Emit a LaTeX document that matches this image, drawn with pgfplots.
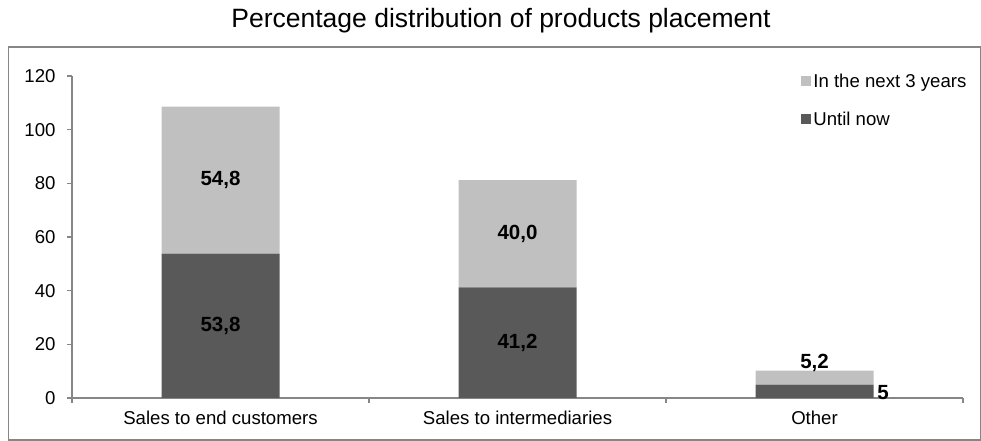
\documentclass[border=0pt]{standalone}
\usepackage{pgfplots}
\pgfplotsset{compat=1.18}
\usepackage{fontspec}
\setmainfont{Liberation Sans}
\definecolor{darkbar}{HTML}{595959}
\definecolor{lightbar}{HTML}{C0C0C0}
\definecolor{axgray}{HTML}{868686}
\begin{document}
\begin{tikzpicture}
\path[use as bounding box] (0pt,0pt) rectangle (981pt,441pt);
\draw[axgray, line width=1.2pt] (8.5pt,1pt) rectangle (980.5pt,394pt);
\node[font=\fontsize{26.5}{30}\selectfont] at (501pt,420pt) {Percentage distribution of products placement};
\begin{axis}[
  at={(72pt,43pt)}, anchor=south west,
  scale only axis, width=891pt, height=322pt,
  ybar stacked, bar width=118pt,
  xmin=-0.5, xmax=2.5, ymin=0, ymax=120,
  ytick={0,20,40,60,80,100,120},
  xtick={-0.5,0.5,1.5,2.5},
  xticklabels={},
  extra x ticks={0,1,2},
  extra x tick labels={Sales to end customers, Sales to intermediaries, Other},
  extra x tick style={major tick length=0pt, tick label style={yshift=-9pt}},
  axis x line*=bottom, axis y line*=left,
  axis line style={axgray, line width=1.2pt},
  tick align=outside, major tick length=5pt,
  tick style={axgray, line width=1.2pt},
  tick label style={font=\fontsize{18.6}{22}\selectfont},
  yticklabel style={xshift=-8pt},
  /pgf/number format/assume math mode=true,
  reverse legend,
  legend style={draw=none, fill=none, at={(0.815,1.02)}, anchor=north west,
    font=\fontsize{18.6}{22}\selectfont, row sep=19pt},
  legend cell align=left,
  legend image code/.code={\fill[#1] (0pt,-5pt) rectangle (10pt,5pt);},
]
\addplot[fill=darkbar, draw=none] coordinates {(0,53.8) (1,41.2) (2,5)};
\addlegendentry{Until now}
\addplot[fill=lightbar, draw=none] coordinates {(0,54.8) (1,40.0) (2,5.2)};
\addlegendentry{In the next 3 years}
\coordinate (a1) at (axis cs:0,26.9);
\coordinate (a2) at (axis cs:0,81.2);
\coordinate (b1) at (axis cs:1,20.6);
\coordinate (b2) at (axis cs:1,61.2);
\coordinate (c2) at (axis cs:2,13.2);
\coordinate (c1) at (axis cs:2.2,2.2);
\end{axis}
\begin{scope}[every node/.style={font=\bfseries\fontsize{20.5}{24}\selectfont}]
\node at (a1) {53,8};
\node at (a2) {54,8};
\node at (b1) {41,2};
\node at (b2) {40,0};
\node at (c2) {5,2};
\node[anchor=west] at (c1) {5};
\end{scope}
\end{tikzpicture}
\end{document}
